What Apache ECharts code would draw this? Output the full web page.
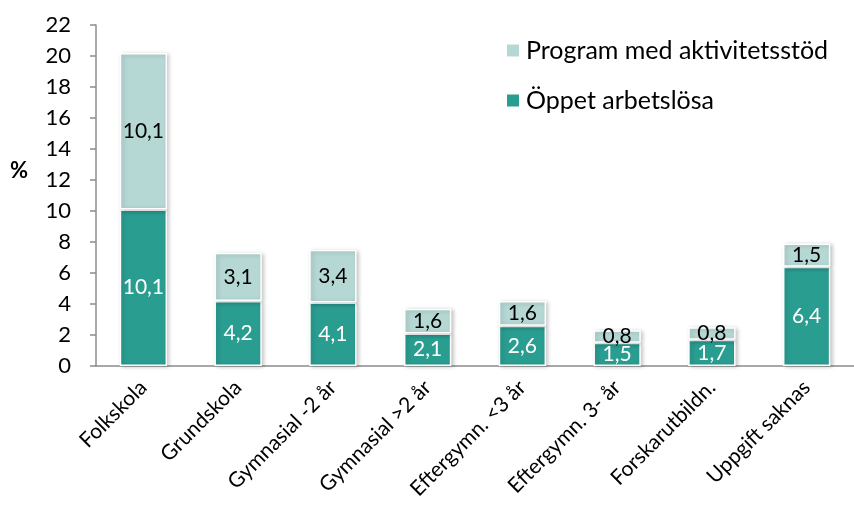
<!DOCTYPE html>
<html>
<head>
<meta charset="utf-8">
<script src="https://cdn.jsdelivr.net/npm/echarts@6/dist/echarts.min.js"></script>
<style>
	html,body{margin:0;padding:0;background:#fff;}
	#chart{width:854px;height:511px;}
</style>
</head>
<body>
<div id="chart"></div>
<script>
// utbildningsnivå
var categories = ['Folkskola', 'Grundskola', 'Gymnasial -2 år', 'Gymnasial >2 år', 'Eftergymn. <3 år', 'Eftergymn. 3- år', 'Forskarutbildn.', 'Uppgift saknas'];
var oppetValues = [10.1, 4.2, 4.1, 2.1, 2.6, 1.5, 1.7, 6.4];
var programValues = [10.1, 3.1, 3.4, 1.6, 1.6, 0.8, 0.8, 1.5];
var yTicks = [0, 2, 4, 6, 8, 10, 12, 14, 16, 18, 20, 22];

var fontName = 'Lato';
var darkColor = '#2a9d91';
var lightColor = '#b6d8d5';

function fmt(p){
	return p.value.toFixed(1).replace('.', ',');
}

var myChart = echarts.init(document.getElementById('chart'));
var option = {
	animation: false,
	textStyle: { fontFamily: fontName },
	grid: {
		left: 96,
		right: -7,
		top: 25,
		bottom: 145
	},
	legend: {
		orient: 'vertical',
		left: 500,
		top: 33,
		itemGap: 25,
		itemWidth: 14,
		itemHeight: 14,
		icon: 'rect',
		data: ['Program med aktivitetsstöd', 'Öppet arbetslösa'],
		textStyle: { fontSize: 25, color: '#000', fontFamily: fontName, padding: [0, 0, 0, 1] }
	},
	graphic: [{
		type: 'text',
		left: 10,
		top: 160,
		style: { text: '%', fontSize: 22, fontWeight: 'bold', fill: '#000', fontFamily: fontName }
	}],
	xAxis: {
		type: 'category',
		data: categories,
		axisLine: { lineStyle: { color: '#8c8c8c', width: 1.5 } },
		axisTick: { length: 6, lineStyle: { color: '#8c8c8c', width: 1.5 } },
		axisLabel: { rotate: 45, fontSize: 21, color: '#000', margin: 18, interval: 0 }
	},
	yAxis: {
		type: 'value',
		min: yTicks[0],
		max: yTicks[yTicks.length - 1],
		interval: 2,
		axisLine: { show: true, lineStyle: { color: '#8c8c8c', width: 1.5 } },
		axisTick: { show: true, length: 6, lineStyle: { color: '#8c8c8c', width: 1.5 } },
		splitLine: { show: false },
		axisLabel: { fontSize: 22, color: '#000', margin: 25 }
	},
	series: [{
		name: 'Öppet arbetslösa',
		type: 'bar',
		stack: 'tot',
		barWidth: '50%',
		data: oppetValues,
		itemStyle: {
			color: darkColor,
			borderColor: '#fff',
			borderWidth: 1.5,
			shadowColor: 'rgba(0,0,0,0.22)',
			shadowBlur: 4,
			shadowOffsetX: 2,
			shadowOffsetY: 1
		},
		label: { show: true, position: 'inside', color: '#fff', fontSize: 21, formatter: fmt }
	}, {
		name: 'Program med aktivitetsstöd',
		type: 'bar',
		stack: 'tot',
		data: programValues,
		itemStyle: {
			color: lightColor,
			borderColor: '#fff',
			borderWidth: 1.5,
			shadowColor: 'rgba(0,0,0,0.22)',
			shadowBlur: 4,
			shadowOffsetX: 2,
			shadowOffsetY: 1
		},
		label: { show: true, position: 'inside', color: '#000', fontSize: 21, formatter: fmt }
	}]
};
myChart.setOption(option);
</script>
</body>
</html>
